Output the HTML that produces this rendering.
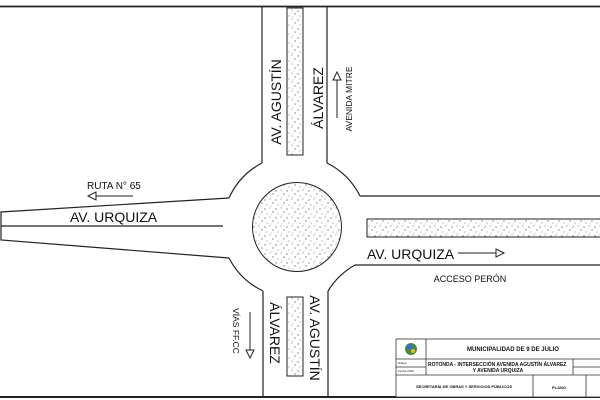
<!DOCTYPE html>
<html><head><meta charset="utf-8"><style>
html,body{margin:0;padding:0;background:#fff;width:600px;height:400px;overflow:hidden}
text{font-family:"Liberation Sans",sans-serif;fill:#111}
</style></head><body>
<svg width="600" height="400" viewBox="0 0 600 400" xmlns="http://www.w3.org/2000/svg">
<defs>
<pattern id="st" width="11" height="9" patternUnits="userSpaceOnUse">
<rect width="11" height="9" fill="#fff"/>
<circle cx="1" cy="2" r="0.6" fill="#444"/><circle cx="6" cy="1" r="0.5" fill="#555"/>
<circle cx="9" cy="5" r="0.6" fill="#444"/><circle cx="3" cy="7" r="0.5" fill="#555"/>
<circle cx="7" cy="8" r="0.4" fill="#666"/>
</pattern>
</defs>
<g fill="none" stroke="#222" stroke-width="1.2">
<line x1="0" y1="6.5" x2="600" y2="6.5" stroke-width="1.8"/>
<line x1="0" y1="397" x2="600" y2="397" stroke-width="2"/>
<line x1="262" y1="7" x2="262" y2="163"/>
<line x1="327" y1="7" x2="327" y2="163"/>
<path d="M262 163 A74 74 0 0 0 229 198"/>
<path d="M327 163 A74 74 0 0 1 360 196"/>
<path d="M229 198 L1 212 L1 240 L229 258"/>
<line x1="1" y1="226" x2="223" y2="226"/>
<path d="M229 258 A74 74 0 0 0 263 291"/>
<line x1="263" y1="291" x2="263" y2="396"/>
<line x1="328" y1="291" x2="328" y2="396"/>
<path d="M328 291 A74 74 0 0 1 355 265"/>
<line x1="360" y1="196" x2="600" y2="196"/>
<line x1="355" y1="265" x2="600" y2="265"/>
</g>
<g stroke="#222" stroke-width="1" fill="url(#st)">
<circle cx="297" cy="227" r="44.5"/>
<rect x="287" y="8" width="16" height="147"/>
<rect x="287" y="297" width="16" height="79"/>
<rect x="367" y="219" width="240" height="18"/>
</g>
<g stroke="#222" stroke-width="1" fill="#fff">
<line x1="95" y1="196" x2="133" y2="196"/><path d="M88 196 L96 192 L96 200 Z"/>
<line x1="458" y1="253" x2="497" y2="253"/><path d="M504 253 L496 249 L496 257 Z"/>
<line x1="337" y1="80" x2="337" y2="118"/><path d="M337 72 L333 80 L341 80 Z"/>
<line x1="250" y1="312" x2="250" y2="350"/><path d="M250 358 L246 350 L254 350 Z"/>
</g>
<text x="87" y="189" font-size="10">RUTA N° 65</text>
<text x="70" y="222" font-size="14">AV. URQUIZA</text>
<text x="367" y="259" font-size="14">AV. URQUIZA</text>
<text x="470" y="282" font-size="9" text-anchor="middle">ACCESO PERÓN</text>
<text transform="translate(281,102) rotate(-90)" font-size="14" text-anchor="middle">AV. AGUSTÍN</text>
<text transform="translate(323,98) rotate(-90)" font-size="14" text-anchor="middle">ÁLVAREZ</text>
<text transform="translate(352,99) rotate(-90)" font-size="8.5" text-anchor="middle">AVENIDA MITRE</text>
<text transform="translate(310,338) rotate(90)" font-size="14" text-anchor="middle">AV. AGUSTÍN</text>
<text transform="translate(270,333) rotate(90)" font-size="14" text-anchor="middle">ÁLVAREZ</text>
<text transform="translate(233,331) rotate(90)" font-size="8.5" text-anchor="middle">VÍAS FF.CC</text>
<g fill="none" stroke="#333" stroke-width="0.8">
<rect x="396" y="339" width="210" height="58" fill="#fff"/>
<line x1="396" y1="359" x2="600" y2="359"/>
<line x1="396" y1="375" x2="600" y2="375"/>
<line x1="426" y1="339" x2="426" y2="375"/>
<line x1="396" y1="367" x2="426" y2="367"/>
<line x1="573" y1="359" x2="573" y2="375"/>
<line x1="573" y1="367" x2="600" y2="367"/>
<line x1="533" y1="375" x2="533" y2="397"/>
<line x1="586" y1="375" x2="586" y2="397"/>
</g>
<circle cx="411" cy="349" r="6" fill="#4a8a3a"/><circle cx="410" cy="347" r="3" fill="#3a6fc0"/><circle cx="413" cy="351" r="2" fill="#e0c030"/>
<text x="513" y="351" font-size="6" font-weight="bold" text-anchor="middle">MUNICIPALIDAD DE 9 DE JULIO</text>
<text x="428" y="366" font-size="5" font-weight="bold">ROTONDA - INTERSECCIÓN AVENIDA AGUSTÍN ÁLVAREZ</text>
<text x="498" y="372" font-size="5" font-weight="bold" text-anchor="middle">Y AVENIDA URQUIZA</text>
<text x="464" y="388" font-size="4" font-weight="bold" text-anchor="middle">SECRETARÍA DE OBRAS Y SERVICIOS PÚBLICOS</text>
<text x="559" y="389" font-size="4" font-weight="bold" text-anchor="middle">PLANO</text>
<text x="398" y="364" font-size="3">Dibujo</text>
<text x="398" y="372" font-size="3">Fecha 2016</text>
</svg>
</body></html>
